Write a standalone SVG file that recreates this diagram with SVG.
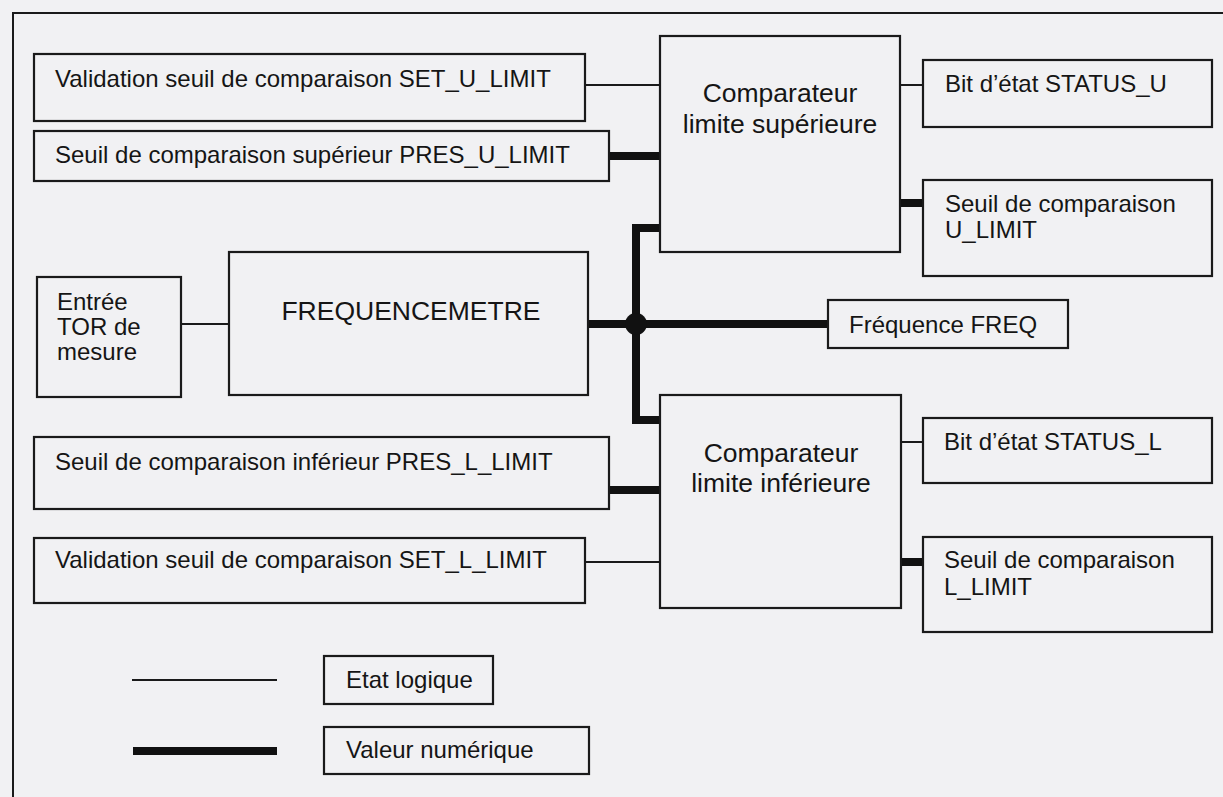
<svg xmlns="http://www.w3.org/2000/svg" width="1223" height="797" viewBox="0 0 1223 797">
<style>
.box{fill:none;stroke:#1a1a1a;stroke-width:2.2}
.thin{fill:none;stroke:#1a1a1a;stroke-width:2}
.thick{fill:none;stroke:#111;stroke-width:8}
text{font-family:"Liberation Sans",Arial,sans-serif;font-size:24px;fill:#151515}
.big{font-size:26.5px}
.mid{text-anchor:middle}
</style>
<rect x="0" y="0" width="1223" height="797" fill="#f1f1f3"/>
<g id="frame"><path class="thin" d="M13,797 V13 H1223"/></g>

<g id="connectors">
<line class="thin" x1="585" y1="85" x2="660" y2="85"/>
<line class="thick" x1="609" y1="156" x2="660" y2="156"/>
<line class="thin" x1="900" y1="85" x2="923" y2="85"/>
<line class="thick" x1="900" y1="203" x2="923" y2="203"/>
<line class="thin" x1="181" y1="324" x2="229" y2="324"/>
<line class="thick" x1="588" y1="324" x2="828" y2="324"/>
<path class="thick" d="M660,228 H636 V420 H660"/>
<circle cx="636" cy="324" r="11" fill="#111"/>
<line class="thick" x1="609" y1="490" x2="660" y2="490"/>
<line class="thin" x1="585" y1="562" x2="660" y2="562"/>
<line class="thin" x1="901" y1="442" x2="923" y2="442"/>
<line class="thick" x1="901" y1="562" x2="923" y2="562"/>
</g>

<g id="set_u_limit"><rect class="box" x="34" y="54" width="551" height="67"/><text x="55" y="87">Validation seuil de comparaison SET_U_LIMIT</text></g>
<g id="pres_u_limit"><rect class="box" x="34" y="131" width="575" height="50"/><text x="55" y="163">Seuil de comparaison supérieur PRES_U_LIMIT</text></g>
<g id="comp_sup"><rect class="box" x="660" y="36" width="240" height="216"/><text class="big mid" x="780" y="102">Comparateur</text><text class="big mid" x="780" y="133">limite supérieure</text></g>
<g id="status_u"><rect class="box" x="923" y="60" width="289" height="67"/><text x="945" y="92">Bit d’état STATUS_U</text></g>
<g id="u_limit"><rect class="box" x="923" y="180" width="289" height="96"/><text x="945" y="212">Seuil de comparaison</text><text x="945" y="238">U_LIMIT</text></g>
<g id="entree"><rect class="box" x="37" y="277" width="144" height="120"/><text x="57" y="310">Entrée</text><text x="57" y="335">TOR de</text><text x="57" y="360">mesure</text></g>
<g id="frequencemetre"><rect class="box" x="229" y="252" width="359" height="143"/><text class="big mid" x="411" y="320">FREQUENCEMETRE</text></g>
<g id="freq"><rect class="box" x="828" y="300" width="240" height="48"/><text x="849" y="333">Fréquence FREQ</text></g>
<g id="comp_inf"><rect class="box" x="660" y="395" width="241" height="213"/><text class="big mid" x="781" y="462">Comparateur</text><text class="big mid" x="781" y="492">limite inférieure</text></g>
<g id="status_l"><rect class="box" x="923" y="418" width="289" height="65"/><text x="944" y="450">Bit d’état STATUS_L</text></g>
<g id="l_limit"><rect class="box" x="923" y="537" width="289" height="95"/><text x="944" y="568">Seuil de comparaison</text><text x="944" y="595">L_LIMIT</text></g>
<g id="pres_l_limit"><rect class="box" x="34" y="437" width="575" height="72"/><text x="55" y="470">Seuil de comparaison inférieur PRES_L_LIMIT</text></g>
<g id="set_l_limit"><rect class="box" x="34" y="538" width="551" height="65"/><text x="55" y="568">Validation seuil de comparaison SET_L_LIMIT</text></g>

<g id="legend">
<line class="thin" x1="132" y1="680" x2="277" y2="680"/>
<rect class="box" x="324" y="656" width="169" height="48"/><text x="346" y="688">Etat logique</text>
<line class="thick" x1="133" y1="751" x2="277" y2="751"/>
<rect class="box" x="324" y="727" width="265" height="47"/><text x="346" y="758">Valeur numérique</text>
</g>
</svg>
